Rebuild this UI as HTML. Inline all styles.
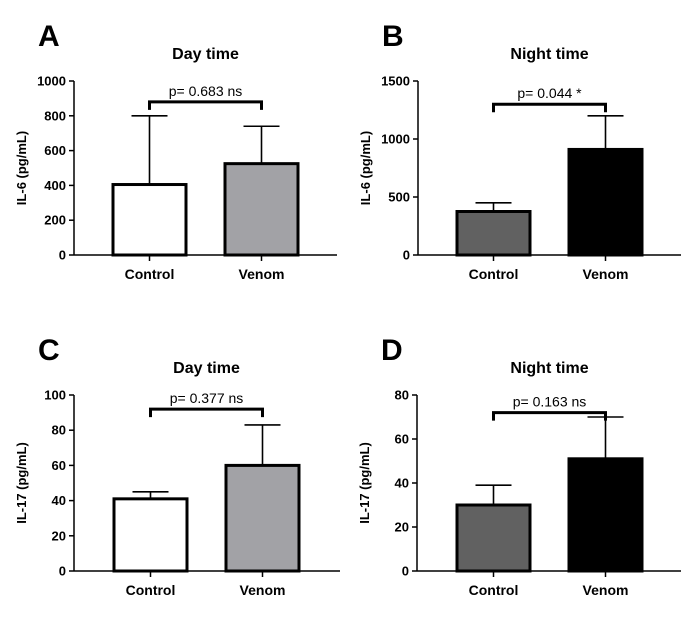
<!DOCTYPE html>
<html><head><meta charset="utf-8"><style>
body{margin:0;background:#fff;}
svg{display:block;font-family:"Liberation Sans",Arial,sans-serif;}
</style></head><body>
<svg id="fig" width="700" height="622" viewBox="0 0 700 622" xmlns="http://www.w3.org/2000/svg"></svg>
<script>
// Data
const categories = ["Control", "Venom"];
const panelLetters = ["A", "B", "C", "D"];
const panelTitles = ["Day time", "Night time", "Day time", "Night time"];
const yTitles = ["IL-6 (pg/mL)", "IL-6 (pg/mL)", "IL-17 (pg/mL)", "IL-17 (pg/mL)"];
const meansA = [405, 525];
const errA = [395, 215];
const meansB = [375, 910];
const errB = [75, 290];
const meansC = [41, 60];
const errC = [4, 23];
const meansD = [30, 51];
const errD = [9, 19];
const ticksA = [0, 200, 400, 600, 800, 1000];
const ticksB = [0, 500, 1000, 1500];
const ticksC = [0, 20, 40, 60, 80, 100];
const ticksD = [0, 20, 40, 60, 80];
const pLabels = ["p= 0.683 ns", "p= 0.044 *", "p= 0.377 ns", "p= 0.163 ns"];
const bracketValues = [880, 1300, 92, 72];

const NS = "http://www.w3.org/2000/svg";
const svg = document.getElementById("fig");
function mk(tag, attrs, parent) {
  const e = document.createElementNS(NS, tag);
  for (const k in attrs) e.setAttribute(k, attrs[k]);
  (parent || svg).appendChild(e);
  return e;
}

const layouts = [
  {ax: 74, top: 81, bot: 255, right: 337, bars: [113, 225], bw: 73, fills: ["#ffffff", "#a2a2a6"]},
  {ax: 418, top: 81, bot: 255, right: 681, bars: [457, 569], bw: 73, fills: ["#616161", "#000000"]},
  {ax: 74, top: 395, bot: 571, right: 340, bars: [114, 226], bw: 73, fills: ["#ffffff", "#a2a2a6"]},
  {ax: 417, top: 395, bot: 571, right: 681, bars: [457, 569], bw: 73, fills: ["#616161", "#000000"]}
];
const allMeans = [meansA, meansB, meansC, meansD];
const allErr = [errA, errB, errC, errD];
const allTicks = [ticksA, ticksB, ticksC, ticksD];

layouts.forEach((L, i) => {
  const g = mk("g", {});
  
  
  const ticks = allTicks[i];
  const maxV = ticks[ticks.length - 1];
  const y = v => L.bot - (v / maxV) * (L.bot - L.top);

  const letter = mk("text", {x: L.ax - 36, y: L.top - 35, "font-size": 30, "font-weight": "bold"}, g);
  letter.textContent = panelLetters[i];
  
  

  const midX = (L.bars[0] + L.bars[1] + L.bw) / 2;
  const title = mk("text", {x: midX, y: L.top - 22, "font-size": 16, "font-weight": "bold", "text-anchor": "middle"}, g);
  title.textContent = panelTitles[i];
  
  

  const yt = mk("text", {x: 0, y: 0, "font-size": 13, "font-weight": "bold", "text-anchor": "middle",
    transform: `translate(${L.ax - 48},${(L.top + L.bot) / 2}) rotate(-90)`}, g);
  yt.textContent = yTitles[i];
  
  

  const ya = mk("line", {x1: L.ax, y1: L.top, x2: L.ax, y2: L.bot, stroke: "#000", "stroke-width": 1.5}, g);
  
  
  ticks.forEach(t => {
    mk("line", {x1: L.ax - 5, y1: y(t), x2: L.ax, y2: y(t), stroke: "#000", "stroke-width": 1.5}, g);
    const tl = mk("text", {x: L.ax - 8, y: y(t) + 4.5, "font-size": 13, "font-weight": "bold", "text-anchor": "end"}, g);
    tl.textContent = t;
    
    
  });

  categories.forEach((c, j) => {
    const x0 = L.bars[j], cx = x0 + L.bw / 2;
    const m = allMeans[i][j], e = allErr[i][j];
    const eb = mk("line", {x1: cx, y1: y(m), x2: cx, y2: y(m + e), stroke: "#000", "stroke-width": 1.6}, g);
    
    
    mk("line", {x1: cx - 18, y1: y(m + e), x2: cx + 18, y2: y(m + e), stroke: "#000", "stroke-width": 1.6}, g);
    const r = mk("rect", {x: x0, y: y(m), width: L.bw, height: L.bot - y(m), fill: L.fills[j], stroke: "#000", "stroke-width": 3}, g);
    
    
    mk("line", {x1: cx, y1: L.bot, x2: cx, y2: L.bot + 6, stroke: "#000", "stroke-width": 1.5}, g);
    const xl = mk("text", {x: cx, y: L.bot + 24, "font-size": 14, "font-weight": "bold", "text-anchor": "middle"}, g);
    xl.textContent = c;
    
    
  });
  const xa = mk("line", {x1: L.ax, y1: L.bot, x2: L.right, y2: L.bot, stroke: "#000", "stroke-width": 1.5}, g);
  
  

  const c0 = L.bars[0] + L.bw / 2, c1 = L.bars[1] + L.bw / 2;
  const by = y(bracketValues[i]);
  const br = mk("path", {d: `M${c0},${by + 8} V${by} H${c1} V${by + 8}`, fill: "none", stroke: "#000", "stroke-width": 3}, g);
  
  
  const pt = mk("text", {x: (c0 + c1) / 2, y: by - 6, "font-size": 14, "text-anchor": "middle"}, g);
  pt.textContent = pLabels[i];
  
  
});
</script>
</body></html>
